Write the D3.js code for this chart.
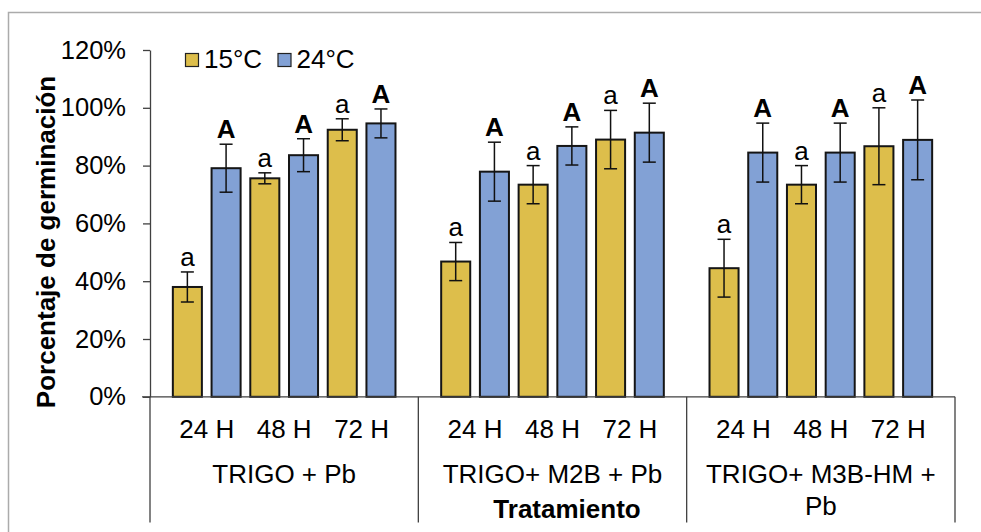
<!DOCTYPE html>
<html>
<head>
<meta charset="utf-8">
<script src="https://cdn.jsdelivr.net/npm/d3@7"></script>
<style>
  body { margin: 0; background: #fff; }
  svg { display: block; font-family: "Liberation Sans", Arial, sans-serif; }
</style>
</head>
<body>
<svg id="chart"></svg>
<script>
// data
const groups = ["TRIGO + Pb", "TRIGO+ M2B + Pb", "TRIGO+ M3B-HM + Pb"]
const groupLines = [["TRIGO + Pb"], ["TRIGO+ M2B + Pb"], ["TRIGO+ M3B-HM +", "Pb"]]
const times = ["24 H", "48 H", "72 H"]
const temps = ["15°C", "24°C"]

const values15 = [[38.0, 75.6, 92.4], [46.8, 73.4, 89.0], [44.5, 73.4, 86.7]]
const errors15 = [[5.2, 1.9, 3.8], [6.6, 6.6, 10.1], [10.0, 6.6, 13.3]]
const values24 = [[79.1, 83.6, 94.6], [77.9, 86.8, 91.4], [84.5, 84.5, 88.9]]
const errors24 = [[8.3, 5.7, 5.0], [10.2, 6.6, 10.2], [10.2, 10.2, 13.8]]
const letters = ["a", "A"]

const yTicks = [0, 0.2, 0.4, 0.6, 0.8, 1.0, 1.2]

const width = 981, height = 532
const colors = ["#DDBE4B", "#82A1D5"]
const margin = { left: 150, right: 26, top: 50, bottom: 135 }

const svg = d3.select("#chart")
  .attr("width", width)
  .attr("height", height)
  .attr("viewBox", [0, 0, width, height])

// outer chart border (only top and left show)
svg.append("rect")
  .attr("x", 8.5).attr("y", 12.5)
  .attr("width", 1000).attr("height", 600)
  .attr("fill", "none")
  .attr("stroke", "#ababab")
  .attr("stroke-width", 1.5)

const y = d3.scaleLinear()
  .domain([0, 1.2])
  .range([height - margin.bottom - 0.2, margin.top])

const xGroup = d3.scaleBand()
  .domain(groups)
  .range([margin.left, width - margin.right])

const slots = []
times.forEach(t => temps.forEach(c => slots.push(t + "|" + c)))

const xSlot = d3.scaleBand()
  .domain(slots)
  .range([0, xGroup.bandwidth()])
  .paddingInner(0.25)
  .paddingOuter(0.59)

const rows = []
groups.forEach((g, gi) => {
  times.forEach((t, ti) => {
    rows.push({ g, t, c: 0, v: values15[gi][ti] / 100, e: errors15[gi][ti] / 100 })
    rows.push({ g, t, c: 1, v: values24[gi][ti] / 100, e: errors24[gi][ti] / 100 })
  })
})
const barX = d => xGroup(d.g) + xSlot(d.t + "|" + temps[d.c])
const bw = xSlot.bandwidth()

// y axis
const yAxis = svg.append("g")
  .attr("transform", `translate(${margin.left},0)`)
  .call(d3.axisLeft(y).tickValues(yTicks).tickFormat(d3.format(".0%"))
    .tickSize(7).tickSizeOuter(0).tickPadding(17))
yAxis.select(".domain").attr("stroke", "#404040").attr("stroke-width", 1.3)
yAxis.selectAll(".tick line").attr("stroke", "#404040").attr("stroke-width", 1.3)
yAxis.selectAll(".tick text")
  .attr("font-size", 25.5)
  .attr("font-family", "'Liberation Sans', Arial, sans-serif")
  .attr("fill", "#000")

// bars
svg.append("g")
  .selectAll("rect")
  .data(rows)
  .join("rect")
  .attr("x", barX)
  .attr("y", d => y(d.v))
  .attr("width", bw)
  .attr("height", d => y(0) - y(d.v))
  .attr("fill", d => colors[d.c])
  .attr("stroke", "#151515")
  .attr("stroke-width", 2)

// x axis line + group separators
const y0 = y(0)
const bottom = 522.5
svg.append("line")
  .attr("x1", margin.left - 8).attr("x2", width - margin.right)
  .attr("y1", y0).attr("y2", y0)
  .attr("stroke", "#404040").attr("stroke-width", 1.3)

const seps = groups.map(g => xGroup(g)).concat([xGroup.range()[1]])
svg.append("g")
  .selectAll("line")
  .data(seps)
  .join("line")
  .attr("x1", d => d).attr("x2", d => d)
  .attr("y1", y0).attr("y2", bottom)
  .attr("stroke", "#404040").attr("stroke-width", 1.3)

// error bars
const eb = svg.append("g").attr("stroke", "#111").attr("stroke-width", 1.5)
eb.selectAll("line.v")
  .data(rows)
  .join("line")
  .attr("class", "v")
  .attr("x1", d => barX(d) + bw / 2).attr("x2", d => barX(d) + bw / 2)
  .attr("y1", d => y(d.v + d.e)).attr("y2", d => y(d.v - d.e))
eb.selectAll("line.top")
  .data(rows)
  .join("line")
  .attr("class", "top")
  .attr("x1", d => barX(d) + bw / 2 - 6.5).attr("x2", d => barX(d) + bw / 2 + 6.5)
  .attr("y1", d => y(d.v + d.e)).attr("y2", d => y(d.v + d.e))
eb.selectAll("line.bot")
  .data(rows)
  .join("line")
  .attr("class", "bot")
  .attr("x1", d => barX(d) + bw / 2 - 6.5).attr("x2", d => barX(d) + bw / 2 + 6.5)
  .attr("y1", d => y(d.v - d.e)).attr("y2", d => y(d.v - d.e))

// significance letters
svg.append("g")
  .selectAll("text")
  .data(rows)
  .join("text")
  .attr("x", d => barX(d) + bw / 2)
  .attr("y", d => y(d.v + d.e) - 6)
  .attr("text-anchor", "middle")
  .attr("font-size", 26)
  .attr("font-weight", d => d.c === 1 ? "bold" : "normal")
  .text(d => letters[d.c])

// time labels under each pair
const timeLabels = []
groups.forEach(g => times.forEach(t => {
  const a = xGroup(g) + xSlot(t + "|" + temps[0])
  const b = xGroup(g) + xSlot(t + "|" + temps[1]) + bw
  timeLabels.push({ t, x: (a + b) / 2 })
}))
svg.append("g")
  .selectAll("text")
  .data(timeLabels)
  .join("text")
  .attr("x", d => d.x)
  .attr("y", 438)
  .attr("text-anchor", "middle")
  .attr("font-size", 26)
  .text(d => d.t)

// group labels
const gl = svg.append("g")
  .selectAll("text")
  .data(groups)
  .join("text")
  .attr("x", d => xGroup(d) + xGroup.bandwidth() / 2)
  .attr("y", 483)
  .attr("text-anchor", "middle")
  .attr("font-size", 26)
gl.selectAll("tspan")
  .data((d, i) => groupLines[i])
  .join("tspan")
  .attr("x", function () { return this.parentNode.getAttribute("x") })
  .attr("dy", (d, i) => i === 0 ? 0 : 32)
  .text(d => d)

// axis titles
svg.append("text")
  .attr("x", 567)
  .attr("y", 518)
  .attr("text-anchor", "middle")
  .attr("font-size", 26)
  .attr("font-weight", "bold")
  .text("Tratamiento")

svg.append("text")
  .attr("transform", "translate(55,242) rotate(-90)")
  .attr("text-anchor", "middle")
  .attr("font-size", 26)
  .attr("font-weight", "bold")
  .text("Porcentaje de germinación")

// legend
const legend = svg.append("g")
  .selectAll("g")
  .data(temps)
  .join("g")
  .attr("transform", (d, i) => `translate(${185.5 + i * 92.5},53.5)`)
legend.append("rect")
  .attr("width", 13).attr("height", 13)
  .attr("fill", (d, i) => colors[i])
  .attr("stroke", "#222").attr("stroke-width", 1.2)
legend.append("text")
  .attr("x", 18.5)
  .attr("y", 14.5)
  .attr("font-size", 26)
  .text(d => d)
</script>
</body>
</html>
